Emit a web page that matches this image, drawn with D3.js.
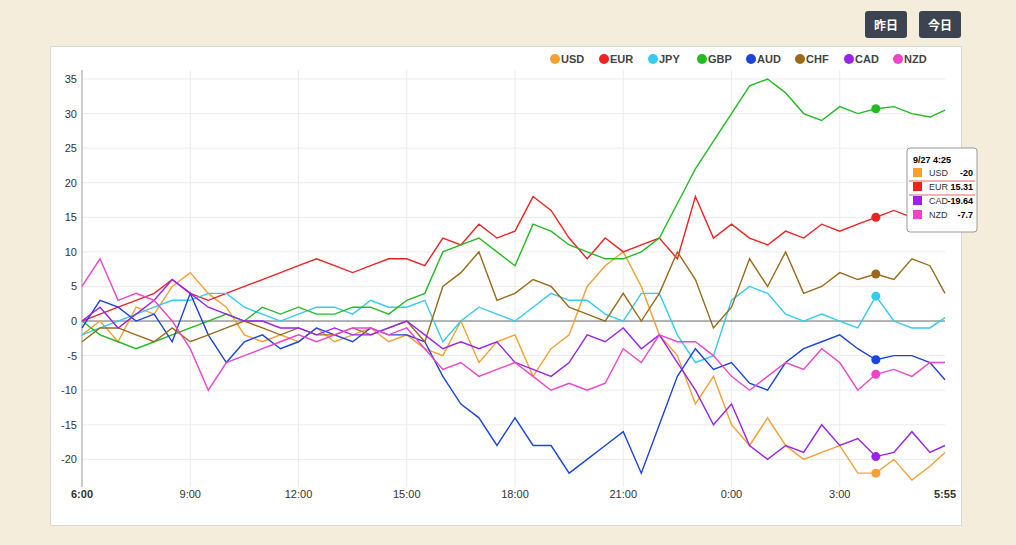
<!DOCTYPE html>
<html><head><meta charset="utf-8">
<script src="https://cdn.jsdelivr.net/npm/d3@7"></script>
<style>
body{margin:0;background:#f5eddb;font-family:"Liberation Sans",Arial,sans-serif;}
.btn{position:absolute;top:11px;height:27px;background:#3b4450;color:#fff;border-radius:3px;font:bold 12px "Noto Sans CJK JP";line-height:27px;text-align:center;width:42px;}
</style></head><body>
<div class="btn" style="left:865px">昨日</div>
<div class="btn" style="left:919px">今日</div>
<svg id="c" width="1016" height="545" style="position:absolute;left:0;top:0;pointer-events:none"></svg>
<script>
const currencies = ['USD','EUR','JPY','GBP','AUD','CHF','CAD','NZD'];
const colors = ['#f5a030','#ee2222','#33ccee','#22bb22','#1a44dd','#9a6a1a','#9922ee','#ee44cc'];
// every 30 minutes from 6:00, last point 5:55
const USD = [-2,0,-3,2,1,5,7,4,2,-2,-3,-2,-3,-1,-3,-2,-1,-3,-2,-4,-5,0,-6,-3,-2,-8,-4,-2,5,8,10,5,-2,-5,-12,-8,-15,-18,-14,-18,-20,-19,-18,-22,-22,-20,-23,-21,-19];
const EUR = [0,1,2,3,4,6,4,3,4,5,6,7,8,9,8,7,8,9,9,8,12,11,14,12,13,18,16,12,9,12,10,11,12,9,18,12,14,12,11,13,12,14,13,14,15,16,15,14,15];
const JPY = [-2,-1,0,1,2,3,3,4,4,2,1,0,1,2,2,1,3,2,2,3,-3,0,2,1,0,2,4,3,3,1,0,4,4,-2,-6,-5,3,5,4,1,0,1,0,-1,3.6,0,-1,-1,0.5];
const GBP = [0,-2,-3,-4,-3,-2,-1,0,1,0,2,1,2,1,1,2,2,1,3,4,10,11,12,10,8,14,13,11,10,9,9,10,12,17,22,26,30,34,35,33,30,29,31,30,30.7,31,30,29.5,30.5];
const AUD = [-1,3,2,0,1,-3,4,-2,-6,-3,-2,-4,-3,-1,-2,-3,-1,-2,-2,-3,-8,-12,-14,-18,-14,-18,-18,-22,-20,-18,-16,-22,-15,-8,-4,-7,-6,-9,-10,-6,-4,-3,-2,-4,-5.6,-5,-5,-6,-8.5];
const CHF = [-3,-1,-1,-2,-3,-1,-3,-2,-1,0,-1,-2,-1,-2,-2,-1,-2,-1,0,-3,5,7,10,3,4,6,5,2,1,0,4,0,4,10,6,-1,2,9,5,10,4,5,7,6,6.8,6,9,8,4];
const CAD = [0,2,-1,1,3,6,4,2,1,0,0,-1,-1,-2,-1,-2,-2,-1,0,-2,-4,-3,-4,-3,-6,-7,-8,-6,-2,-3,-1,-4,-2,-6,-10,-15,-12,-18,-20,-18,-19,-15,-18,-17,-19.6,-19,-16,-19,-18];
const NZD = [5,9,3,4,3,0,-4,-10,-6,-5,-4,-3,-2,-3,-2,-1,-1,-2,-1,-4,-7,-6,-8,-7,-6,-8,-10,-9,-10,-9,-4,-6,-2,-3,-3,-5,-8,-10,-8,-6,-7,-4,-6,-10,-7.7,-7,-8,-6,-6];
const series = [USD,EUR,JPY,GBP,AUD,CHF,CAD,NZD];
const tickMins = [0,180,360,540,720,900,1080,1260,1435];
const tickLabels = ['6:00','9:00','12:00','15:00','18:00','21:00','0:00','3:00','5:55'];
const yTicks = [-20,-15,-10,-5,0,5,10,15,20,25,30,35];
const hoverIdx = 44;
const tipRows = [['USD','-20'],['EUR','15.31'],['CAD','-19.64'],['NZD','-7.7']];

const mins = USD.map((d,i)=> i < USD.length-1 ? i*30 : 1435);
const svg = d3.select('#c');
svg.append('rect').attr('x',50.5).attr('y',46.5).attr('width',911).attr('height',479).attr('fill','#fff').attr('stroke','#d8d8d8');
const x = d3.scaleLinear().domain([0,1435]).range([82,945]);
const y = d3.scaleLinear().domain([-24,36.3]).range([487,70]);

const g = svg.append('g');
g.selectAll('.vg').data(tickMins.slice(1,-1)).join('line')
  .attr('x1',d=>x(d)).attr('x2',d=>x(d)).attr('y1',70).attr('y2',487).attr('stroke','#ececec');
g.selectAll('.hg').data(yTicks).join('line')
  .attr('x1',82).attr('x2',945).attr('y1',d=>y(d)).attr('y2',d=>y(d)).attr('stroke',d=>d===0?'#666':'#ececec');
g.append('line').attr('x1',82).attr('x2',82).attr('y1',70).attr('y2',487).attr('stroke','#999');
g.selectAll('.yl').data(yTicks).join('text').attr('x',77).attr('y',d=>y(d)+4).attr('text-anchor','end')
  .attr('font-size',11).attr('fill','#333').text(d=>d);
g.selectAll('.xl').data(tickMins).join('text').attr('x',d=>x(d)).attr('y',498)
  .attr('text-anchor','middle').attr('font-size',11).attr('fill','#333')
  .attr('font-weight',(d,i)=> i===0||i===tickMins.length-1?'bold':'normal').text((d,i)=>tickLabels[i]);

const line = d3.line().x((d,i)=>x(mins[i])).y(d=>y(d));
series.forEach((s,k)=>{
  g.append('path').attr('d',line(s)).attr('fill','none').attr('stroke',colors[k]).attr('stroke-width',1.4);
});
series.forEach((s,k)=>{
  g.append('circle').attr('cx',x(mins[hoverIdx])).attr('cy',y(s[hoverIdx])).attr('r',4.5).attr('fill',colors[k]);
});

// legend
const lg = svg.append('g').attr('font-size',11).attr('font-weight','bold');
let lx = 550;
currencies.forEach((c,k)=>{
  lg.append('circle').attr('cx',lx+5).attr('cy',59).attr('r',5).attr('fill',colors[k]);
  lg.append('text').attr('x',lx+11).attr('y',63).attr('fill','#444').text(c);
  lx += 49;
});

// tooltip
const tp = svg.append('g').attr('transform','translate(907,148)');
tp.append('rect').attr('width',70).attr('height',84).attr('rx',3).attr('fill','#fff').attr('stroke','#999');
tp.append('text').attr('x',6).attr('y',15).attr('font-size',9).attr('font-weight','bold').text('9/27 4:25');
const tc = [colors[0],colors[1],colors[6],colors[7]];
tipRows.forEach((r,i)=>{
  const yy = 28 + i*14;
  tp.append('rect').attr('x',6).attr('y',yy-8).attr('width',9).attr('height',9).attr('fill',tc[i]);
  tp.append('text').attr('x',22).attr('y',yy).attr('font-size',9).attr('fill','#333').text(r[0]);
  tp.append('text').attr('x',66).attr('y',yy).attr('font-size',9).attr('font-weight','bold').attr('text-anchor','end').text(r[1]);
});
tp.append('line').attr('x1',2).attr('x2',68).attr('y1',33).attr('y2',33).attr('stroke','#d66');
tp.append('line').attr('x1',2).attr('x2',68).attr('y1',47).attr('y2',47).attr('stroke','#d66');
</script>
</body></html>
